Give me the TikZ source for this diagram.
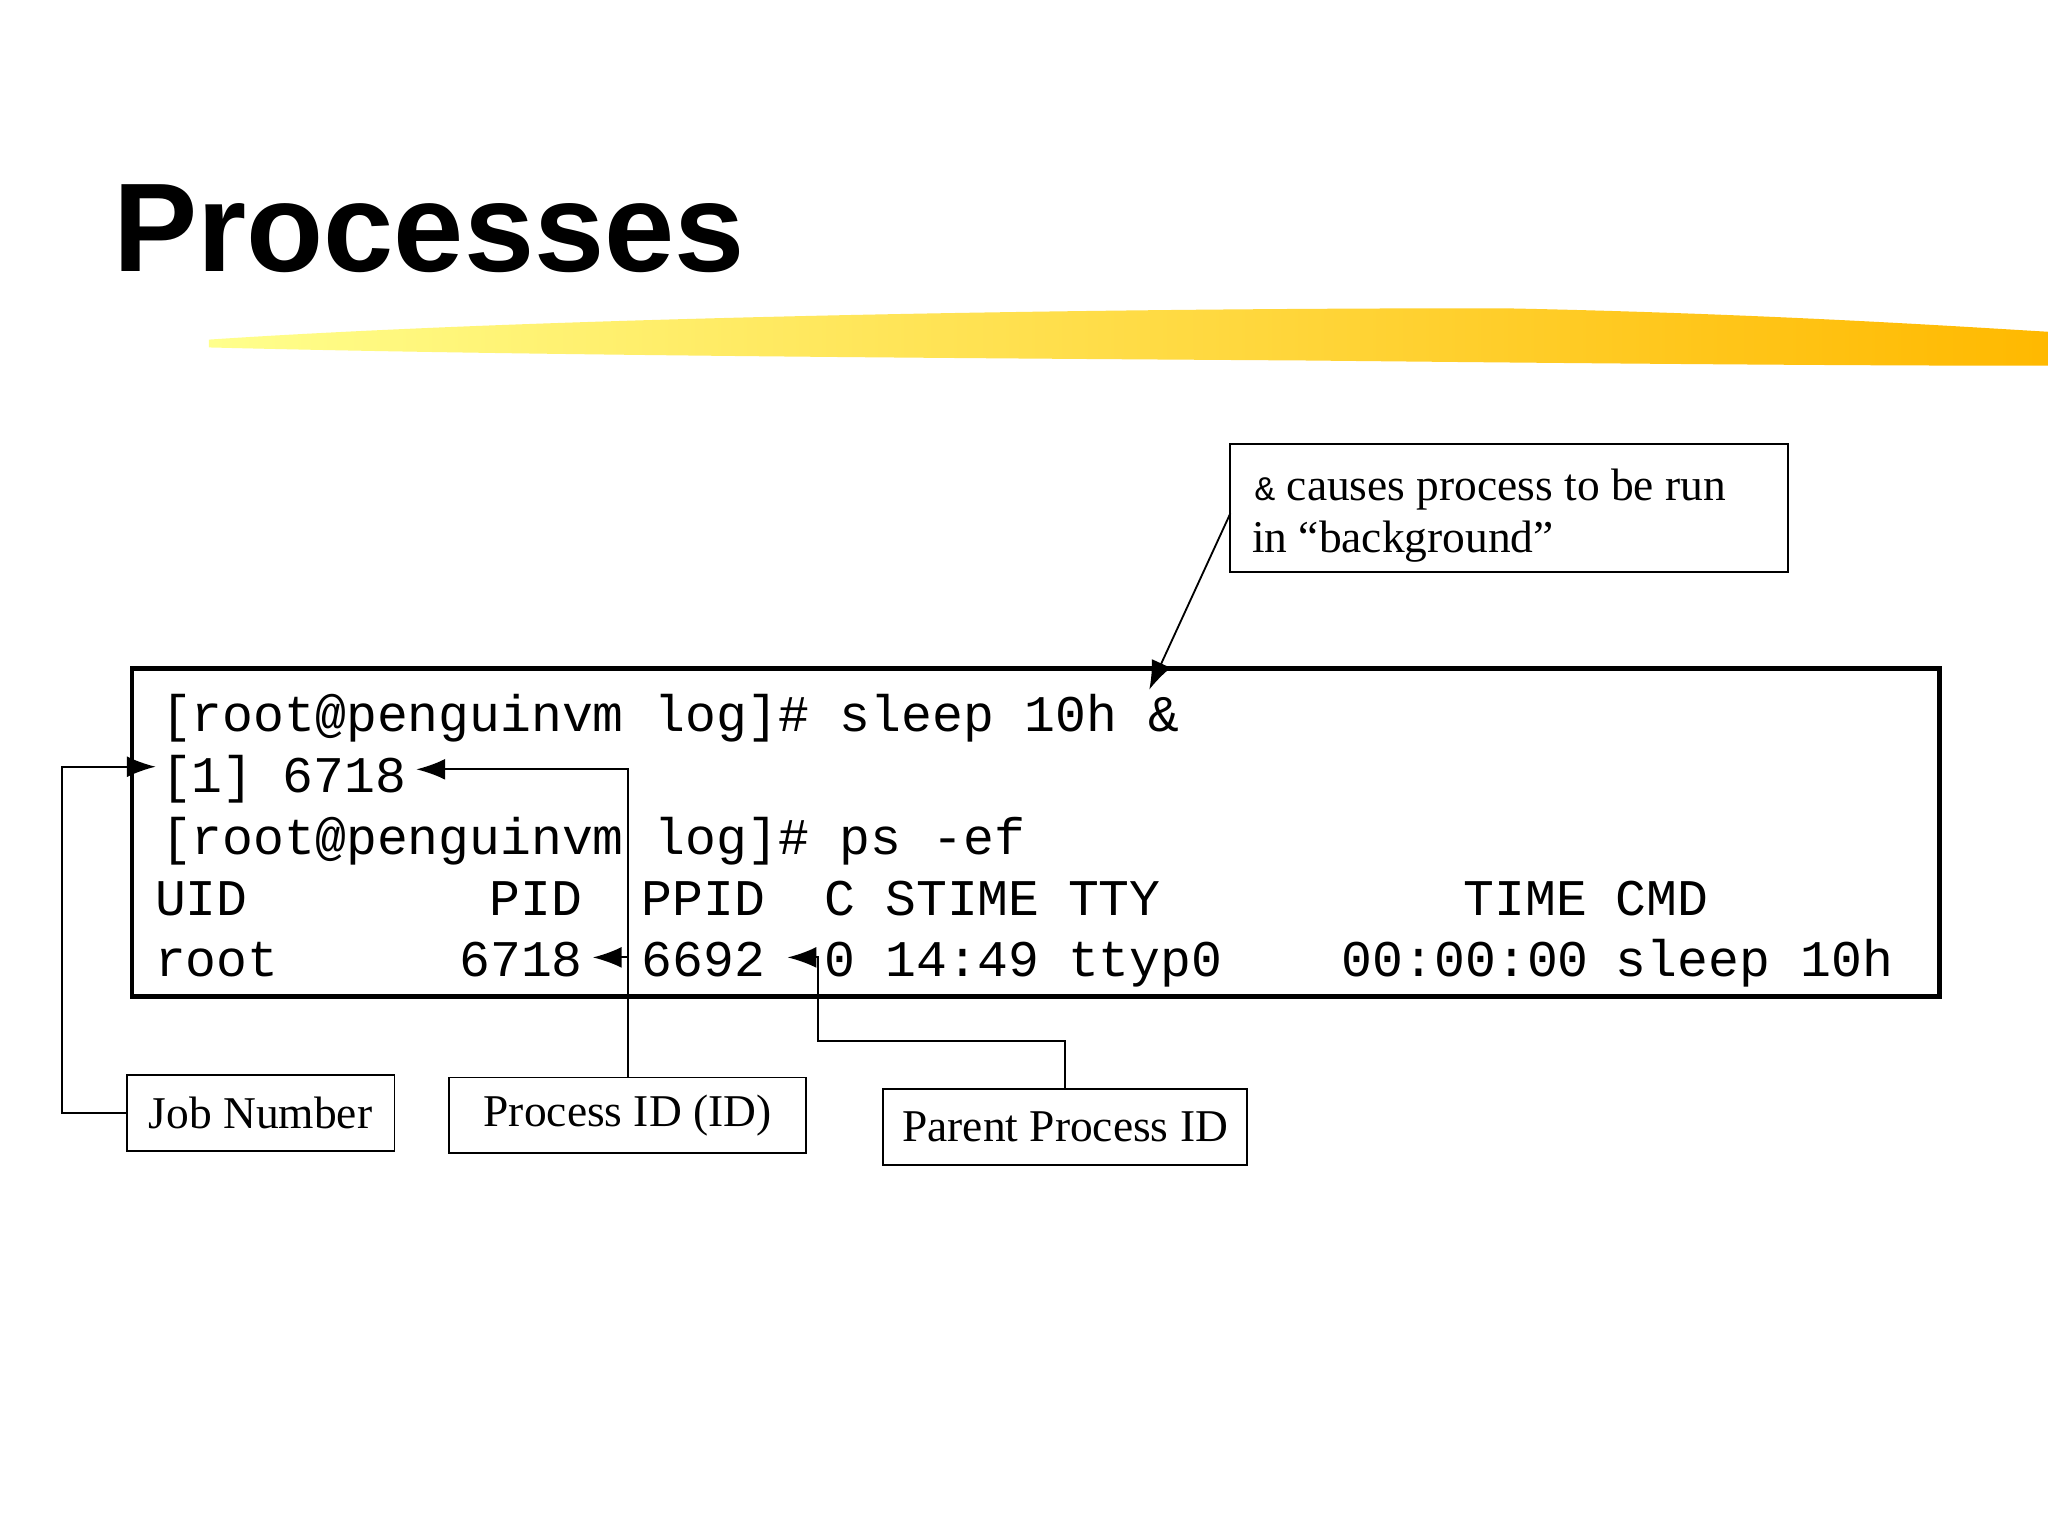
\documentclass[tikz,border=0pt]{standalone}
\usepackage{fontspec}
\setmainfont{Liberation Serif}
\newfontfamily\monof{Liberation Mono}
\newfontfamily\titlef{Liberation Sans}
\usetikzlibrary{arrows.meta}
\begin{document}
\begin{tikzpicture}[x=0.1mm,y=-0.1mm,
  tt/.style={anchor=base west,inner sep=0pt,font=\monof\fontsize{11.2}{13}\selectfont},
  lbl/.style={draw,line width=0.4pt,inner sep=0pt,font=\fontsize{9.9}{12}\selectfont},
  con/.style={line width=0.4pt},
  arr/.style={con,-{Latex[length=2.2mm,width=1.6mm]}}]
\useasboundingbox (0,0) rectangle (1568,1176);
\fill[white] (0,0) rectangle (1568,1176);
% title
\node[anchor=base west,inner sep=0pt,font=\titlef\bfseries\fontsize{27.5}{32}\selectfont] (title) at (86,208) {Processes};
% brush stroke
\shade[left color=yellow!45!white,right color=orange!55!yellow]
  (160,260) .. controls (400,244) and (800,236) .. (1150,236)
  .. controls (1350,240) and (1500,250) .. (1568,254)
  -- (1568,280) .. controls (1400,280) and (1200,278) .. (1000,276)
  .. controls (700,274) and (400,272) .. (160,266) -- cycle;
% terminal box
\draw[line width=1pt] (101,512) rectangle (1485,763);
\def\cw{23.3}
\newcommand\tok[4]{\node[tt] (#1) at ({118+#2*\cw},#3) {#4};}
\tok{l1}{0.2}{560}{[root@penguinvm log]\# sleep 10h \&}
\coordinate (amp) at ({118+32.7*\cw},528);
\tok{job}{0.2}{607}{[1]}
\tok{pidA}{4.2}{607}{6718}
\tok{l3}{0.2}{654}{[root@penguinvm log]\# ps -ef}
\tok{h1}{0}{701}{UID}
\tok{h2}{11}{701}{PID}
\tok{h3}{16}{701}{PPID}
\tok{h4}{22}{701}{C}
\tok{h5}{24}{701}{STIME}
\tok{h6}{30}{701}{TTY}
\tok{h7}{43}{701}{TIME}
\tok{h8}{48}{701}{CMD}
\tok{r1}{0}{748}{root}
\tok{r2}{10}{748}{6718}
\tok{r3}{16}{748}{6692}
\tok{r4}{22}{748}{0}
\tok{r5}{24}{748}{14:49}
\tok{r6}{30}{748}{ttyp0}
\tok{r7}{39}{748}{00:00:00}
\tok{r8}{48}{748}{sleep 10h}
% label boxes
\node[lbl,minimum width=205*0.1mm,minimum height=58*0.1mm] (jobn) at (199.5,852) {Job Number};
\node[lbl,minimum width=273*0.1mm,minimum height=58*0.1mm] (pidl) at (480.5,854) {Process ID (ID)};
\node[lbl,minimum width=279*0.1mm,minimum height=58*0.1mm] (ppidl) at (815.5,863) {Parent Process ID};
\draw[line width=0.4pt] (942,340) rectangle (1369,438);
\coordinate (ampw) at (942,393);
\node[anchor=base west,inner sep=0pt,font=\fontsize{9.9}{12}\selectfont] (amp1) at (960,383)
  {{\monof\fontsize{7.5}{10}\selectfont\&} causes process to be run};
\node[anchor=base west,inner sep=0pt,font=\fontsize{9.9}{12}\selectfont] (amp2) at (958,423) {in “background”};
% connectors
\draw[arr] (jobn.west) -- ++(-49,0) |- ([xshift=-1pt]job.west |- 0,587);
\coordinate (pidtop) at (481,589);
\draw[arr] (pidl.north -| pidtop) -- (pidtop) -- ([xshift=2pt]pidA.east |- pidtop);
\draw[arr] (481,733) -- ([xshift=2pt]r2.east |- 0,733);
\draw[arr] (ppidl.north) -- ++(0,-36) -| (626,733) -- (603,733);
\draw[arr] (ampw) -- (amp);
\end{tikzpicture}
\end{document}
